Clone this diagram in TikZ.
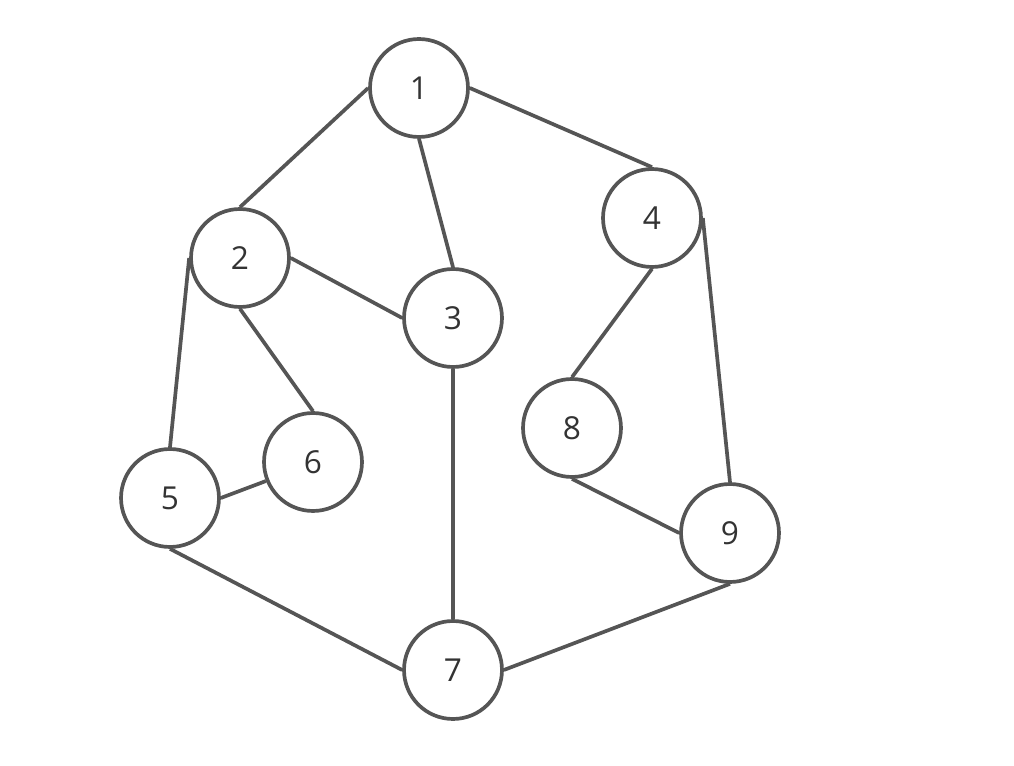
\documentclass[tikz,border=0pt]{standalone}
\usepackage{fontspec}
\setmainfont{Open Sans}
\usepackage{tikz}
\usetikzlibrary{positioning}
\definecolor{vertexline}{HTML}{555555}
\definecolor{vertextext}{HTML}{333333}
\tikzset{
  vertex/.style = {circle, draw=vertexline, line width=2.1pt, fill=white,
                   minimum size=1.96cm, inner sep=0pt,
                   font=\fontsize{18}{21}\selectfont, text=vertextext},
  edge/.style   = {draw=vertexline, line width=2.1pt},
}
\begin{document}
\begin{tikzpicture}[x=0.02cm, y=-0.02cm]
    \useasboundingbox (0,0) rectangle (1014,766);

    % vertices
    \node[vertex] (v1) at (419,88)  {1};
    \node[vertex] (v2) at (240,258) {2};
    \node[vertex] (v3) at (453,318) {3};
    \node[vertex] (v4) at (652,218) {4};
    \node[vertex] (v5) at (170,498) {5};
    \node[vertex] (v6) at (313,462) {6};
    \node[vertex] (v7) at (453,670) {7};
    \node[vertex] (v8) at (572,428) {8};
    \node[vertex] (v9) at (730,533) {9};

    % edges
    \draw[edge] (v1.west)  -- (v2.north);
    \draw[edge] (v1.south) -- (v3.north);
    \draw[edge] (v1.east)  -- (v4.north);
    \draw[edge] (v2.east)  -- (v3.west);
    \draw[edge] (v2.south) -- (v6.north);
    \draw[edge] (v2.west)  -- (v5.north);
    \draw[edge] (v5.east)  -- (v6.202);
    \draw[edge] (v5.south) -- (v7.west);
    \draw[edge] (v3.south) -- (v7.north);
    \draw[edge] (v4.south) -- (v8.north);
    \draw[edge] (v4.east)  -- (v9.north);
    \draw[edge] (v8.south) -- (v9.west);
    \draw[edge] (v9.south) -- (v7.east);
\end{tikzpicture}
\end{document}
